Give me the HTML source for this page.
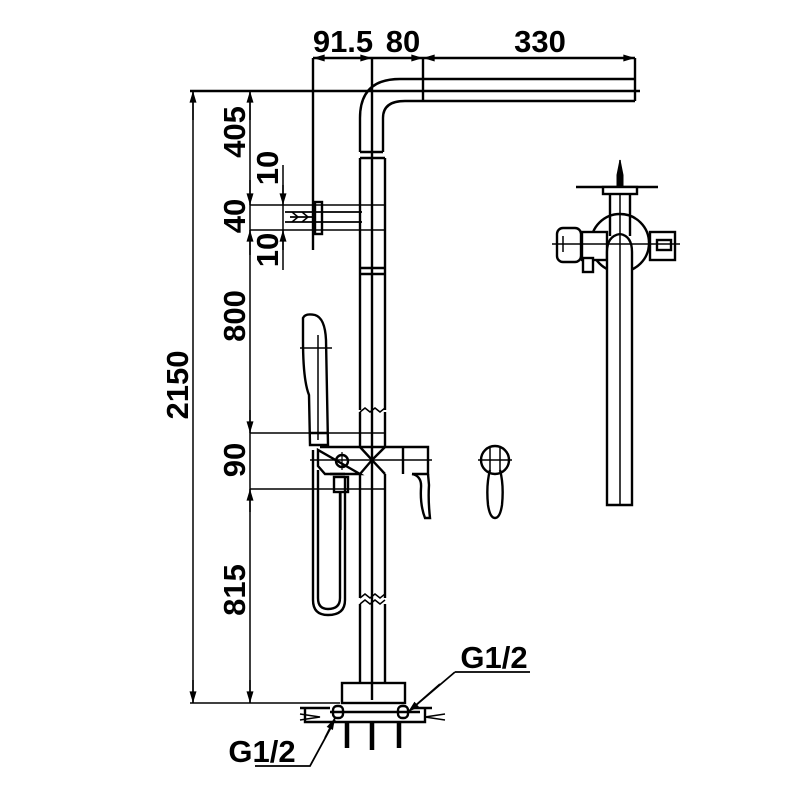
<!DOCTYPE html>
<html><head><meta charset="utf-8"><style>html,body{margin:0;padding:0;background:#fff}svg{display:block}text{font-family:"Liberation Sans",sans-serif;font-weight:bold;font-size:31px;fill:#000}</style></head>
<body>
<svg width="800" height="800" viewBox="0 0 800 800" xmlns="http://www.w3.org/2000/svg">
<defs>
<marker id="a" viewBox="0 0 10 6" refX="10" refY="3" markerWidth="12" markerHeight="7" orient="auto-start-reverse" markerUnits="userSpaceOnUse"><path d="M0,0L10,3L0,6z" fill="#000"/></marker>
</defs>
<g stroke="#000" stroke-width="2.4" fill="none">
<!-- top dims -->
<line x1="313" y1="58" x2="635" y2="58"/>
<line x1="313" y1="58" x2="313" y2="250"/>
<line x1="372" y1="58" x2="372" y2="150"/>
<line x1="423" y1="58" x2="423" y2="101"/>
<line x1="635" y1="58" x2="635" y2="101"/>
<line x1="340" y1="58" x2="313" y2="58" marker-end="url(#a)" stroke-width="1"/>
<line x1="345" y1="58" x2="372" y2="58" marker-end="url(#a)" stroke-width="1"/>
<line x1="395" y1="58" x2="423" y2="58" marker-end="url(#a)" stroke-width="1"/>
<line x1="450" y1="58" x2="423" y2="58" marker-end="url(#a)" stroke-width="1"/>
<line x1="605" y1="58" x2="635" y2="58" marker-end="url(#a)" stroke-width="1"/>
<!-- top horizontal arm -->
<line x1="400" y1="79" x2="635" y2="79"/>
<line x1="405" y1="101" x2="635" y2="101"/>
<line x1="190" y1="91" x2="640" y2="91"/>
<path d="M360,152 V118 Q360,79 400,79"/>
<path d="M383,152 V118 Q383,101 405,101"/>
<line x1="360" y1="152" x2="383" y2="152"/>
<!-- vertical pipe -->
<line x1="372" y1="150" x2="372" y2="700"/>
<path d="M360,158 V410 M385,158 V410 M360,158 H385 M360,268 H385 M360,274 H385"/>
<path d="M360,412 l5,-4 l5,4 l5,-4 l5,4 l5,-4" stroke-width="1.5"/>
<path d="M360,412 V447 M385,412 V447"/>
<path d="M360,474 V598 M385,474 V598"/>
<path d="M360,598 l5,-4 l5,4 l5,-4 l5,4 l5,-4 M360,604 l5,-4 l5,4 l5,-4 l5,4 l5,-4" stroke-width="1.5"/>
<path d="M360,604 V683 M385,604 V683"/>
<!-- valve body -->
<path d="M320,447 H428 V474 H412 M360,474 H325 L318,466 V450 Z"/>
<path d="M360,447 L372,460 L385,447 M360,474 L372,460 L385,474 M330,474 L345,474"/>
<line x1="403" y1="447" x2="403" y2="474"/>
<line x1="310" y1="460" x2="432" y2="460" stroke-width="1.5"/>
<circle cx="342" cy="461" r="6"/>
<line x1="342" y1="452" x2="342" y2="470" stroke-width="1.2"/>
<path d="M412,474 Q422,476 421,488 Q420,505 425,518 H430 Q428,500 429,485 L428,474"/>
<!-- hand shower -->
<path d="M303,318 Q305,313 315,315 Q325,318 326,340 L328,445 H310 L309,395 Q303,380 303,340 Z"/>
<line x1="300" y1="348" x2="332" y2="348" stroke-width="1.5"/>
<line x1="318" y1="335" x2="318" y2="440" stroke-width="1.5"/>
<line x1="310" y1="433" x2="328" y2="433"/>
<!-- hose -->
<path d="M313,450 V600 Q313,615 328,615 Q345,615 345,600 V478"/>
<path d="M318,470 V598 Q318,609 328,609 Q340,609 340,598 V492"/>
<rect x="334" y="477" width="14" height="15"/>
<line x1="341" y1="492" x2="341" y2="530" stroke-width="1.2"/>
<!-- left dims -->
<line x1="193" y1="91" x2="193" y2="703" stroke-width="1.5"/>
<line x1="193" y1="120" x2="193" y2="91" marker-end="url(#a)" stroke-width="1.5"/>
<line x1="193" y1="680" x2="193" y2="703" marker-end="url(#a)" stroke-width="1.5"/>
<line x1="250" y1="91" x2="250" y2="703" stroke-width="1.5"/>
<line x1="250" y1="120" x2="250" y2="91" marker-end="url(#a)" stroke-width="1.5"/>
<line x1="250" y1="180" x2="250" y2="205" marker-end="url(#a)" stroke-width="1.5"/>
<line x1="250" y1="255" x2="250" y2="230" marker-end="url(#a)" stroke-width="1.5"/>
<line x1="250" y1="410" x2="250" y2="433" marker-end="url(#a)" stroke-width="1.5"/>
<line x1="250" y1="512" x2="250" y2="489" marker-end="url(#a)" stroke-width="1.5"/>
<line x1="250" y1="680" x2="250" y2="703" marker-end="url(#a)" stroke-width="1.5"/>
<line x1="283" y1="165" x2="283" y2="270" stroke-width="1.5"/>
<line x1="283" y1="185" x2="283" y2="205" marker-end="url(#a)" stroke-width="1.5"/>
<line x1="283" y1="250" x2="283" y2="230" marker-end="url(#a)" stroke-width="1.5"/>
<line x1="250" y1="205" x2="385" y2="205" stroke-width="1.5"/>
<line x1="250" y1="230" x2="385" y2="230" stroke-width="1.5"/>
<line x1="250" y1="433" x2="385" y2="433" stroke-width="1.5"/>
<line x1="250" y1="489" x2="385" y2="489" stroke-width="1.5"/>
<line x1="190" y1="703" x2="340" y2="703" stroke-width="1.5"/>
<!-- bracket -->
<rect x="315" y="202" width="7" height="32"/>
<path d="M285,212 H362 M285,222 H362 M290,217 H315" stroke-width="1.8"/>
<path d="M292,212 l6,5 l-6,5 M302,212 l6,5 l-6,5" stroke-width="1.5"/>
<!-- base -->
<rect x="342" y="683" width="63" height="20"/>
<path d="M300,708 H330 M412,708 H432 M305,708 V722 H425 V708 M330,712 H420"/>
<path d="M300,714 L320,717 L300,720" stroke-width="1.5"/>
<path d="M445,714 L425,717 L445,720" stroke-width="1.5"/>
<rect x="333" y="706" width="10" height="12" rx="4"/>
<rect x="398" y="706" width="10" height="12" rx="4"/>
<path d="M347,722 V748 M372,722 V750 M399,722 V748" stroke-width="4.5"/>
<path d="M455,672 H530 M455,672 L408,712" stroke-width="1.8"/>
<line x1="440" y1="684" x2="408" y2="712" marker-end="url(#a)" stroke-width="1.8"/>
<path d="M255,766 H310 L335,720" stroke-width="1.8"/>
<line x1="325" y1="738" x2="335" y2="718" marker-end="url(#a)" stroke-width="1.8"/>
<!-- small handle -->
<circle cx="495" cy="460" r="14"/>
<line x1="478" y1="460" x2="512" y2="460" stroke-width="1.5"/>
<path d="M490,448 V470 M500,448 V470" stroke-width="1.5"/>
<path d="M490,470 Q486,485 488,505 Q490,518 495,518 Q500,518 502,505 Q504,485 500,470"/>
<!-- right view -->
<circle cx="620" cy="243" r="29"/>
<line x1="620" y1="160" x2="620" y2="505" stroke-width="1.5"/>
<line x1="576" y1="187" x2="658" y2="187"/>
<rect x="603" y="187" width="34" height="7" fill="#fff"/>
<path d="M610,194 V236 M630,194 V236"/>
<path d="M617,175 L620,160 L623,175 V186 H617 Z" fill="#000" stroke-width="1"/>
<rect x="582" y="232" width="25" height="28" fill="#fff"/>
<rect x="583" y="258" width="10" height="14" fill="#fff"/>
<rect x="650" y="232" width="25" height="28" fill="#fff"/>
<rect x="657" y="240" width="14" height="10"/>
<rect x="557" y="228" width="24" height="34" rx="6" fill="#fff"/>
<path d="M607,505 V252 Q607,236 620,234 Q632,236 632,252 V505 Z" fill="#fff"/>
<line x1="620" y1="234" x2="620" y2="505" stroke-width="1.5"/>
<line x1="552" y1="244" x2="680" y2="244" stroke-width="1.5"/>
<line x1="563" y1="236" x2="563" y2="252" stroke-width="1.5"/>
</g>
<text x="343" y="52" text-anchor="middle">91.5</text>
<text x="403" y="52" text-anchor="middle">80</text>
<text x="540" y="52" text-anchor="middle">330</text>
<text x="494" y="668" text-anchor="middle">G1/2</text>
<text x="262" y="762" text-anchor="middle">G1/2</text>
<g>
<text transform="translate(245,132) rotate(-90)" text-anchor="middle">405</text>
<text transform="translate(278,168) rotate(-90)" text-anchor="middle">10</text>
<text transform="translate(245,216) rotate(-90)" text-anchor="middle">40</text>
<text transform="translate(278,250) rotate(-90)" text-anchor="middle">10</text>
<text transform="translate(245,316) rotate(-90)" text-anchor="middle">800</text>
<text transform="translate(188,385) rotate(-90)" text-anchor="middle">2150</text>
<text transform="translate(245,460) rotate(-90)" text-anchor="middle">90</text>
<text transform="translate(245,590) rotate(-90)" text-anchor="middle">815</text>
</g>
</svg>
</body></html>
